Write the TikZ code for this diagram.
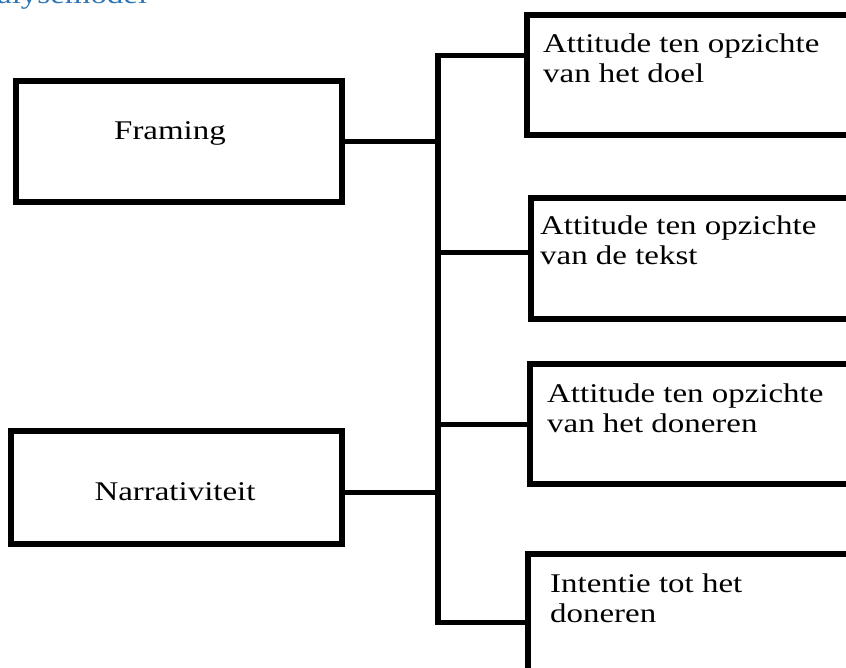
\documentclass[tikz,border=0pt]{standalone}
\usepackage{fontspec}
\setmainfont{Liberation Serif}
\newfontfamily\boxfont[FakeStretch=1.22]{Liberation Serif}
\usetikzlibrary{positioning,calc}

\begin{document}
\begin{tikzpicture}[x=1pt,y=-1pt,
    blok/.style={draw, line width=6.5pt, rectangle, outer sep=0pt, inner sep=0pt, anchor=north west},
    bloktekst/.style={font=\boxfont\fontsize{27}{30}\selectfont, align=left, inner sep=0pt},
    lijn/.style={line width=5pt}]
    % Kleuren
    \definecolor{kopblauw}{RGB}{46,116,181}

    % Kader van de figuur
    \useasboundingbox (0,0) rectangle (846,668);
    \clip (0,0) rectangle (846,668);

    % Titel (bovenaan afgesneden)
    \node[bloktekst, text=kopblauw, anchor=base west] (titel) at (-3,4) {alysemodel};

    % Linkse blokken
    \node[blok, minimum width=326pt, minimum height=121pt] (framing) at (16,81) {};
    \node[bloktekst, anchor=base] (framingtekst) at (170,140) {Framing};

    \node[blok, minimum width=331pt, minimum height=113pt] (narratief) at (11,431) {};
    \node[bloktekst, anchor=base] (narratieftekst) at (175,500) {Narrativiteit};

    % Rechtse blokken (rechts afgesneden)
    \node[blok, minimum width=400pt, minimum height=120pt] (doel) at (527,15) {};
    \node[bloktekst, anchor=base west] (doeltekst) at (543,83) {Attitude ten opzichte\\van het doel};

    \node[blok, minimum width=400pt, minimum height=121pt] (tekst) at (531,198) {};
    \node[bloktekst, anchor=base west] (teksttekst) at (540,265) {Attitude ten opzichte\\van de tekst};

    \node[blok, minimum width=400pt, minimum height=120pt] (doneren) at (530,364) {};
    \node[bloktekst, anchor=base west] (donerentekst) at (547,432) {Attitude ten opzichte\\van het doneren};

    \node[blok, minimum width=400pt, minimum height=200pt] (intentie) at (528,554) {};
    \node[bloktekst, anchor=base west] (intentietekst) at (550,622) {Intentie tot het\\doneren};

    % Verticale verbindingslijn
    \coordinate (boven) at (438,53);
    \coordinate (onder) at (438,625);
    \draw[line width=6.5pt] (boven) -- (onder);

    % Aftakkingen
    \coordinate (a1) at (438,56);
    \coordinate (a2) at (438,253);
    \coordinate (a3) at (438,424);
    \coordinate (a4) at (438,622);
    \coordinate (b1) at (438,142);
    \coordinate (b2) at (438,492);
    \draw[lijn] (framing.east |- b1) -- (b1);
    \draw[lijn] (narratief.east |- b2) -- (b2);
    \draw[lijn] (a1) -- (a1 -| doel.west);
    \draw[lijn] (a2) -- (a2 -| tekst.west);
    \draw[lijn] (a3) -- (a3 -| doneren.west);
    \draw[lijn] (a4) -- (a4 -| intentie.west);
\end{tikzpicture}
\end{document}
